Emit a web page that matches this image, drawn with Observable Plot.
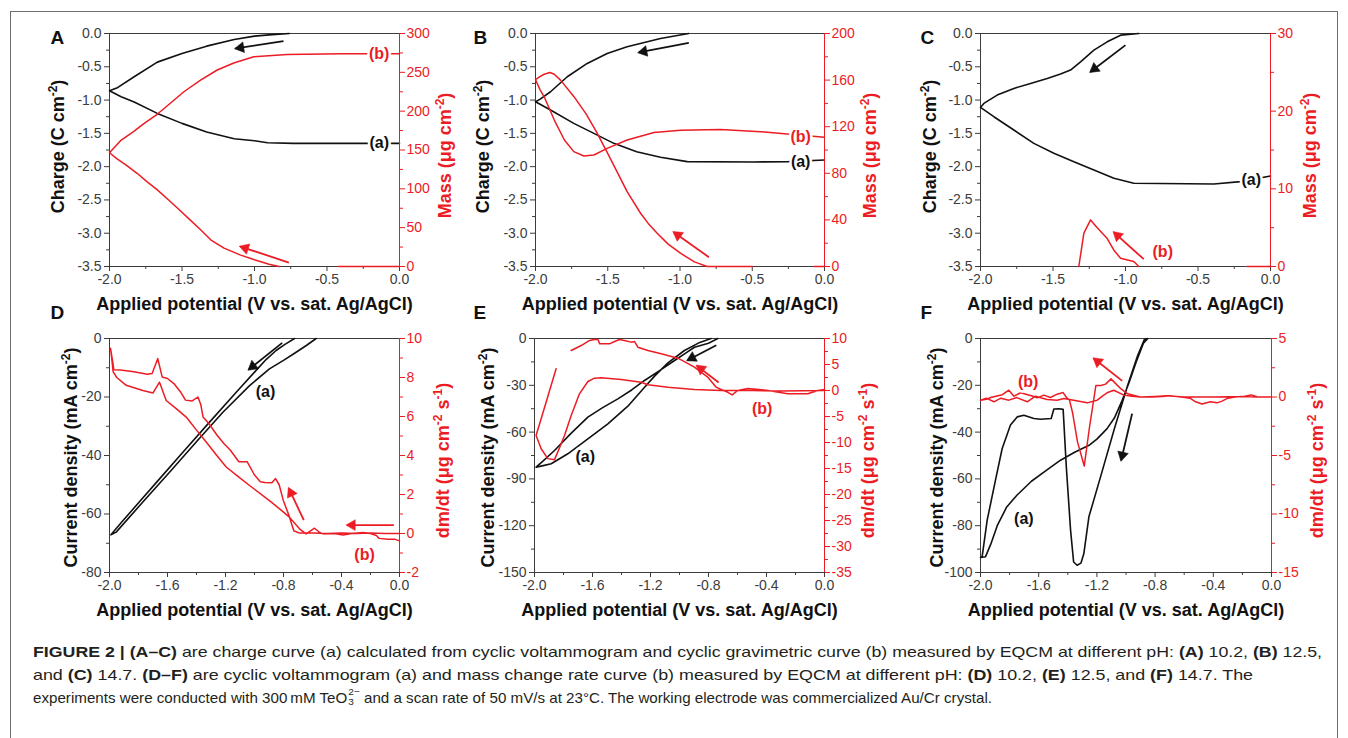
<!DOCTYPE html>
<html><head><meta charset="utf-8">
<script src="https://cdn.jsdelivr.net/npm/d3@7"></script>
<script src="https://cdn.jsdelivr.net/npm/@observablehq/plot@0.6"></script>
<style>
html,body{margin:0;padding:0;background:#fff;}
#fig{position:relative;width:1348px;height:738px;overflow:hidden;background:#fff;font-family:"Liberation Sans",Arial,Helvetica,sans-serif;}
#border{position:absolute;left:10px;top:11px;width:1328px;height:780px;border:1px solid #6e6e6e;box-sizing:border-box;}
.panel{position:absolute;}
.panel svg{position:absolute;left:0;top:0;}
#caption{position:absolute;left:33px;top:641px;font-size:14.5px;line-height:22.8px;color:#231f20;}
.cl{display:block;white-space:nowrap;height:22.8px;}
.cl .t{display:inline-block;transform-origin:0 50%;white-space:nowrap;}
.st{display:inline-block;font-size:0.66em;line-height:1.05;vertical-align:-0.25em;text-align:left;margin-left:1px;}
</style></head>
<body>
<div id="fig"><div id="border"></div><div id="caption"></div></div>
<script>
const RED = "#ec1c24", INK = "#111111", AXC = "#3c3c3c";
const FONT = "'Liberation Sans', Arial, Helvetica, sans-serif";

// ---------- tick values ----------
const xTicksTop = [-2, -1.5, -1, -0.5, 0];
const xMinorTop = [-1.75, -1.25, -0.75, -0.25];
const xTicksBot = [-2, -1.6, -1.2, -0.8, -0.4, 0];
const xMinorBot = [-1.8, -1.4, -1.0, -0.6, -0.2];
const chargeTicks = [0, -0.5, -1, -1.5, -2, -2.5, -3, -3.5];
const chargeMinor = [-0.25, -0.75, -1.25, -1.75, -2.25, -2.75, -3.25];
const aMassTicks = [0, 50, 100, 150, 200, 250, 300];
const aMassMinor = [25, 75, 125, 175, 225, 275];
const bMassTicks = [0, 40, 80, 120, 160, 200];
const bMassMinor = [20, 60, 100, 140, 180];
const cMassTicks = [0, 10, 20, 30];
const cMassMinor = [5, 15, 25];
const dCurTicks = [0, -20, -40, -60, -80];
const dCurMinor = [-10, -30, -50, -70];
const dRateTicks = [-2, 0, 2, 4, 6, 8, 10];
const dRateMinor = [-1, 1, 3, 5, 7, 9];
const eCurTicks = [0, -30, -60, -90, -120, -150];
const eCurMinor = [-15, -45, -75, -105, -135];
const eRateTicks = [10, 5, 0, -5, -10, -15, -20, -25, -30, -35];
const eRateMinor = [7.5, 2.5, -2.5, -7.5, -12.5, -17.5, -22.5, -27.5, -32.5];
const fCurTicks = [0, -20, -40, -60, -80, -100];
const fCurMinor = [-10, -30, -50, -70, -90];
const fRateTicks = [5, 0, -5, -10, -15];
const fRateMinor = [2.5, -2.5, -7.5, -12.5];

// ---------- series: [potential V, value] ----------
const aCharge = [[-0.76,0],[-0.9,-0.02],[-1.0,-0.04],[-1.14,-0.09],[-1.33,-0.19],[-1.5,-0.3],[-1.67,-0.43],[-1.83,-0.65],[-1.95,-0.82],[-2.0,-0.86],[-1.92,-0.95],[-1.83,-1.03],[-1.67,-1.2],[-1.5,-1.35],[-1.33,-1.48],[-1.14,-1.58],[-1.0,-1.61],[-0.91,-1.64],[-0.73,-1.65],[-0.4,-1.65],[0,-1.65]];
const aMass = [[0,0],[-0.42,0],[NaN,NaN],[-0.83,0],[-0.9,3],[-1.0,8.6],[-1.1,15],[-1.21,23.6],[-1.3,34],[-1.37,47],[-1.45,61],[-1.53,75],[-1.6,87],[-1.67,98.6],[-1.74,109],[-1.81,120],[-1.88,130],[-1.95,139],[-2.0,146.5],[-1.924,162],[-1.832,174],[-1.763,184],[-1.671,196],[-1.556,214],[-1.487,225],[-1.372,240],[-1.257,253],[-1.143,262],[-1.005,270],[-0.775,273],[-0.4,274],[0,274]];
const bCharge = [[-0.94,0],[-1.135,-0.075],[-1.366,-0.2],[-1.504,-0.3],[-1.642,-0.45],[-1.78,-0.65],[-1.896,-0.875],[-1.97,-0.99],[-2.0,-1.025],[-1.896,-1.15],[-1.735,-1.35],[-1.596,-1.5],[-1.458,-1.65],[-1.3,-1.775],[-1.135,-1.86],[-0.95,-1.925],[-0.5,-1.93],[-0.25,-1.925],[0,-1.9]];
const bMass = [[0,0],[-0.07,0],[NaN,NaN],[-0.5,0],[-0.812,0],[-0.9,4],[-0.997,11.4],[-1.08,19],[-1.158,28.6],[-1.22,37],[-1.273,45.7],[-1.366,64.3],[-1.43,80],[-1.504,98],[-1.58,116],[-1.65,131],[-1.735,146],[-1.827,160],[-1.87,165],[-1.9,166.5],[-1.94,165],[-1.97,163],[-2.0,160.5],[-1.97,152],[-1.94,145.7],[-1.87,125.7],[-1.8,108.6],[-1.735,98.6],[-1.665,94.9],[-1.596,95.7],[-1.504,101.4],[-1.366,108.6],[-1.18,115],[-0.997,117],[-0.72,117.7],[-0.443,115.7],[-0.26,113.7],[0,111]];
const cCharge = [[-0.908,0],[-1.034,-0.025],[-1.126,-0.125],[-1.218,-0.25],[-1.31,-0.425],[-1.379,-0.55],[-1.448,-0.61],[-1.54,-0.675],[-1.655,-0.75],[-1.77,-0.825],[-1.885,-0.925],[-1.977,-1.05],[-2.0,-1.11],[-1.908,-1.25],[-1.77,-1.45],[-1.632,-1.65],[-1.494,-1.8],[-1.356,-1.925],[-1.218,-2.05],[-1.08,-2.175],[-0.943,-2.25],[-0.39,-2.26],[-0.207,-2.225],[0,-2.14]];
const cMass = [[0,0],[-0.16,0],[NaN,NaN],[-0.908,0],[-0.943,0.64],[-1.034,1.07],[-1.08,2.1],[-1.126,3.6],[-1.195,5.0],[-1.241,6.0],[-1.287,4.3],[-1.322,0]];
const dCurrent = [[-0.575,0],[-0.64,-2.3],[-0.713,-4.7],[-0.8,-7.5],[-0.897,-10.4],[-1.034,-16.1],[-1.218,-25.2],[-1.402,-35.4],[-1.586,-45.7],[-1.77,-55.9],[-1.954,-66.2],[-1.99,-67.1],[-1.92,-63.0],[-1.816,-57.1],[-1.655,-48.0],[-1.494,-38.9],[-1.31,-28.6],[-1.126,-18.4],[-0.989,-10.9],[-0.92,-7.2],[-0.851,-4.1],[-0.79,-2.0],[-0.724,0]];
const dRate = [[0,0],[-0.1,0],[-0.2,0.02],[-0.3,0],[-0.4,0.02],[-0.5,0],[-0.6,0.02],[-0.69,0.02],[-0.729,0.14],[-0.763,0.94],[-0.802,1.71],[-0.83,2.5],[-0.855,2.82],[-0.88,2.6],[-0.93,2.62],[-0.96,2.65],[-1.0,3.0],[-1.051,3.68],[-1.108,3.68],[-1.166,4.27],[-1.21,4.6],[-1.258,5.04],[-1.315,5.64],[-1.355,5.98],[-1.37,6.6],[-1.39,7.0],[-1.43,6.8],[-1.476,6.84],[-1.51,7.26],[-1.556,7.69],[-1.6,7.95],[-1.637,8.03],[-1.667,8.97],[-1.706,8.2],[-1.74,8.17],[-1.832,8.3],[-1.924,8.38],[-1.97,8.4],[-1.98,8.9],[-1.993,9.5],[-1.985,9.0],[-1.975,8.3],[-1.95,8.0],[-1.885,7.6],[-1.77,7.33],[-1.7,7.21],[-1.655,7.76],[-1.609,6.82],[-1.54,6.4],[-1.471,5.97],[-1.4,5.3],[-1.333,4.69],[-1.26,4.0],[-1.195,3.41],[-1.11,2.9],[-1.034,2.46],[-0.897,1.69],[-0.8,1.1],[-0.759,0.84],[-0.69,0.24],[-0.644,-0.02],[-0.586,0.27],[-0.55,0.05],[-0.529,-0.02],[-0.45,0],[-0.39,-0.08],[-0.33,0],[-0.253,0.05],[-0.2,0],[-0.16,-0.1],[-0.14,-0.25],[-0.08,-0.3],[-0.03,-0.3],[0,-0.38]];
const eCurrent = [[-0.736,0],[-0.8,-3.0],[-0.897,-5.6],[-0.96,-9.5],[-1.034,-14.1],[-1.14,-20.8],[-1.241,-26.9],[-1.33,-33.0],[-1.425,-38.7],[-1.53,-44.3],[-1.632,-50.4],[-1.75,-61.0],[-1.862,-71.8],[-1.94,-78.5],[-1.989,-82.5],[-1.94,-81.5],[-1.885,-80.3],[-1.77,-73.9],[-1.632,-64.3],[-1.494,-54.7],[-1.356,-43.4],[-1.241,-31.2],[-1.172,-24.1],[-1.08,-15.6],[-0.966,-7.7],[-0.86,-2.5],[-0.782,0]];
const eRate = [[0,0.19],[-0.046,0],[-0.115,-0.64],[-0.253,-0.64],[-0.39,0],[-0.45,0.2],[-0.529,0.38],[-0.598,0],[-0.637,-0.85],[-0.67,-0.3],[-0.713,0.19],[-0.747,0.64],[-0.805,2.56],[-0.897,4.49],[-1.011,6.22],[-1.126,7.05],[-1.218,7.69],[-1.287,8.33],[-1.31,9.42],[-1.333,9.3],[-1.38,9.62],[-1.414,9.81],[-1.448,9.42],[-1.483,8.97],[-1.55,8.97],[-1.563,9.81],[-1.586,9.81],[-1.62,9.62],[-1.678,8.65],[-1.747,7.69],[NaN,NaN],[-1.851,4.17],[-1.92,-2.25],[-1.989,-8.65],[-1.954,-11.2],[-1.908,-13.1],[-1.862,-13.3],[-1.839,-11.8],[-1.793,-8.65],[-1.747,-4.8],[-1.69,-0.64],[-1.632,1.73],[-1.586,2.37],[-1.54,2.44],[-1.402,2.12],[-1.264,1.6],[-1.218,1.1],[-1.08,0.64],[-0.897,0.19],[-0.713,0],[-0.5,0],[-0.3,-0.1],[0,0]];
const fCurrent = [[-0.85,0],[-0.874,-0.4],[-0.92,-7.3],[-0.989,-20.1],[-1.08,-38.6],[-1.172,-58.5],[-1.255,-76.2],[-1.29,-92.0],[-1.31,-96.0],[-1.336,-96.9],[-1.36,-95.5],[-1.381,-81.9],[-1.41,-55],[-1.432,-30.3],[-1.46,-30.0],[-1.496,-30.1],[-1.514,-34.2],[-1.588,-34.5],[-1.633,-34.2],[-1.702,-32.8],[-1.748,-33.5],[-1.794,-37.0],[-1.851,-47.0],[-1.897,-60.5],[-1.954,-77.6],[-1.989,-93.3],[-2.0,-93.6],[-1.966,-93.3],[-1.93,-88],[-1.885,-80],[-1.82,-72],[-1.75,-67],[-1.65,-61],[-1.55,-56.5],[-1.45,-52],[-1.35,-48.5],[-1.25,-45.5],[-1.2,-43],[-1.13,-38.5],[-1.08,-34],[-1.03,-27],[-0.98,-19],[-0.93,-10],[-0.88,-2],[-0.85,0]];
const fRate = [[0,0],[-0.1,0.02],[-0.138,0.18],[-0.184,0.07],[-0.25,0],[-0.3,-0.1],[-0.34,-0.35],[-0.374,-0.5],[-0.42,-0.41],[-0.477,-0.6],[-0.522,-0.41],[-0.56,-0.1],[-0.62,0],[-0.7,0.1],[-0.75,0.05],[-0.82,0],[-0.9,0],[-0.943,0.13],[-0.989,0.27],[-1.034,0.69],[-1.069,1.12],[-1.103,1.55],[-1.14,1.1],[-1.172,0.98],[-1.207,0.98],[-1.25,-2.5],[-1.287,-5.9],[-1.333,-3.86],[-1.368,-1.3],[-1.39,-0.2],[-1.404,-0.13],[-1.432,0.38],[-1.473,0.24],[-1.519,-0.04],[-1.565,0.16],[-1.61,-0.07],[-1.65,0.1],[-1.725,0.36],[-1.77,0.07],[-1.805,0.58],[-1.85,0.2],[-1.93,-0.04],[-1.96,-0.2],[-2.0,-0.27],[-1.96,-0.1],[-1.908,-0.41],[-1.86,-0.1],[-1.805,-0.27],[-1.75,-0.05],[-1.679,-0.41],[-1.622,0.07],[-1.542,-0.21],[-1.473,-0.27],[-1.427,-0.13],[-1.359,-0.27],[-1.267,-0.5],[-1.198,-0.27],[-1.16,0.1],[-1.13,0.36],[-1.084,0.58],[-1.015,0.16],[-0.96,0.07],[-0.9,0],[-0.8,0.05],[-0.72,0.1],[-0.6,0],[-0.4,0],[-0.2,0.05],[-0.1,0],[0,0]];

// ---------- arrows [x1, y1, x2, y2] and labels [x, y, text] ----------
const aBlackArrows = [[-0.80,-0.115,-1.13,-0.225]];
const aRedArrows = [[-0.763,5.1,-1.097,25.7]];
const bBlackArrows = [[-0.939,-0.14,-1.285,-0.285]];
const bRedArrows = [[-0.80,8,-1.043,29.4]];
const cBlackArrows = [[-1.0,-0.175,-1.241,-0.575]];
const cRedArrows = [[-0.874,0.94,-1.08,4.4]];
const dBlackArrows = [[-0.809,-1.5,-1.039,-10.6]];
const dRedArrows = [[-0.66,0.68,-0.763,2.31],[-0.039,0.43,-0.361,0.43]];
const eBlackArrows = [[-0.746,-4.3,-0.944,-13.9]];
const eRedArrows = [[-0.73,1.54,-0.879,4.74]];
const fBlackArrows = [[-0.958,-32.1,-1.033,-52.0]];
const fRedArrows = [[-1.026,1.38,-1.221,3.29]];
const aBlackLabels = [[-0.14,-1.65,"(a)"]], aRedLabels = [[-0.14,274,"(b)"]];
const bBlackLabels = [[-0.165,-1.925,"(a)"]], bRedLabels = [[-0.165,111.4,"(b)"]];
const cBlackLabels = [[-0.133,-2.2,"(a)"]], cRedLabels = [[-0.743,1.93,"(b)"]];
const dBlackLabels = [[-0.924,-18.2,"(a)"]], dRedLabels = [[-0.241,-1.11,"(b)"]];
const eBlackLabels = [[-1.65,-75.9,"(a)"]], eRedLabels = [[-0.43,-3.46,"(b)"]];
const fBlackLabels = [[-1.702,-77.2,"(a)"]], fRedLabels = [[-1.672,1.3,"(b)"]];

const xTitle = "Applied potential (V vs. sat. Ag/AgCl)";
const chargeTitle = "Charge (C cm^{-2})";
const massTitle = "Mass (μg cm^{-2})";
const currentTitle = "Current density (mA cm^{-2})";
const rateTitle = "dm/dt (μg cm^{-2} s^{-1})";

const f1 = d => d.toFixed(1);
const f0 = d => String(d);

const panels = [
  {letter:"A", frame:[109,33,399,266], xT:xTicksTop, xM:xMinorTop, yDom:[-3.5,0], yT:chargeTicks, yM:chargeMinor, yF:f1,
   rDom:[0,300], rT:aMassTicks, rM:aMassMinor, black:aCharge, red:aMass, bA:aBlackArrows, rA:aRedArrows, bL:aBlackLabels, rL:aRedLabels,
   yTitle:chargeTitle, rTitle:massTitle, lDx:-59, lDy:10, yDx:-46, yDy:-3.5, rDx:51, rDy:5.5},
  {letter:"B", frame:[535,33,824,266], xT:xTicksTop, xM:xMinorTop, yDom:[-3.5,0], yT:chargeTicks, yM:chargeMinor, yF:f1,
   rDom:[0,200], rT:bMassTicks, rM:bMassMinor, black:bCharge, red:bMass, bA:bBlackArrows, rA:bRedArrows, bL:bBlackLabels, rL:bRedLabels,
   yTitle:chargeTitle, rTitle:massTitle, lDx:-62, lDy:10, yDx:-47, yDy:-3.5, rDx:51, rDy:5.5},
  {letter:"C", frame:[980,33,1270,266], xT:xTicksTop, xM:xMinorTop, yDom:[-3.5,0], yT:chargeTicks, yM:chargeMinor, yF:f1,
   rDom:[0,30], rT:cMassTicks, rM:cMassMinor, black:cCharge, red:cMass, bA:cBlackArrows, rA:cRedArrows, bL:cBlackLabels, rL:cRedLabels,
   yTitle:chargeTitle, rTitle:massTitle, lDx:-60, lDy:10, yDx:-45, yDy:-3.5, rDx:45, rDy:5.5},
  {letter:"D", frame:[109,338,399,572], xT:xTicksBot, xM:xMinorBot, yDom:[-80,0], yT:dCurTicks, yM:dCurMinor, yF:f0,
   rDom:[-2,10], rT:dRateTicks, rM:dRateMinor, black:dCurrent, red:dRate, bA:dBlackArrows, rA:dRedArrows, bL:dBlackLabels, rL:dRedLabels,
   yTitle:currentTitle, rTitle:rateTitle, lDx:-59, lDy:-20, yDx:-33, yDy:2, rDx:49, rDy:5},
  {letter:"E", frame:[534,338,824,572], xT:xTicksBot, xM:xMinorBot, yDom:[-150,0], yT:eCurTicks, yM:eCurMinor, yF:f0,
   rDom:[-35,10], rT:eRateTicks, rM:eRateMinor, black:eCurrent, red:eRate, bA:eBlackArrows, rA:eRedArrows, bL:eBlackLabels, rL:eRedLabels,
   yTitle:currentTitle, rTitle:rateTitle, lDx:-61, lDy:-20, yDx:-41, yDy:2, rDx:49, rDy:5},
  {letter:"F", frame:[980,338,1271,572], xT:xTicksBot, xM:xMinorBot, yDom:[-100,0], yT:fCurTicks, yM:fCurMinor, yF:f0,
   rDom:[-15,5], rT:fRateTicks, rM:fRateMinor, black:fCurrent, red:fRate, bA:fBlackArrows, rA:fRedArrows, bL:fBlackLabels, rL:fRedLabels,
   yTitle:currentTitle, rTitle:rateTitle, lDx:-60, lDy:-20, yDx:-38, yDy:2, rDx:51, rDy:5}
];

function richText(svg) {
  d3.select(svg).selectAll("text").each(function() {
    const s = this.textContent;
    if (s.indexOf("^{") < 0) return;
    const parts = s.split(/(\^\{[^}]*\})/).filter(p => p.length);
    const sel = d3.select(this);
    sel.text(null);
    let raised = false;
    for (const p of parts) {
      if (p.startsWith("^{")) {
        const t = sel.append("tspan").attr("font-size", 12).text(p.slice(2, -1));
        if (!raised) t.attr("dy", -7);
        raised = true;
      } else {
        const t = sel.append("tspan").text(p);
        if (raised) t.attr("dy", 7);
        raised = false;
      }
    }
  });
  d3.select(svg).selectAll("[stroke=white]").attr("paint-order", "stroke");
}

// arrow heads: filled triangles oriented along each arrow in screen space
function arrowHeads(arrows, frame, yDom) {
  const [fx0, fy0, fx1, fy1] = frame;
  const kx = (fx1 - fx0) / 2, ky = (fy1 - fy0) / (yDom[1] - yDom[0]);
  return arrows.map(([x1, y1, x2, y2]) => {
    const dxp = (x2 - x1) * kx, dyp = -(y2 - y1) * ky;
    const len = Math.hypot(dxp, dyp), ux = dxp / len, uy = dyp / len;
    const back = 5;
    return {x: x2 - back * ux / kx, y: y2 + back * uy / ky, rot: Math.atan2(dxp, -dyp) * 180 / Math.PI};
  });
}
function arrowMarks(arrows, frame, yDom, color) {
  return [
    Plot.link(arrows, {x1: d => d[0], y1: d => d[1], x2: d => d[2], y2: d => d[3], stroke: color, strokeWidth: 1.8}),
    Plot.dot(arrowHeads(arrows, frame, yDom), {x: "x", y: "y", rotate: "rot", symbol: "triangle", r: 4, fill: color, stroke: color, strokeWidth: 0.5})
  ];
}

const fig = document.getElementById("fig");
const ML = 100, MR = 70, MT = 30, MB = 55;
const X = d => d[0], Y = d => d[1];

for (const p of panels) {
  const [fx0, fy0, fx1, fy1] = p.frame;
  const W = ML + (fx1 - fx0) + MR, H = MT + (fy1 - fy0) + MB;
  const wrap = document.createElement("div");
  wrap.className = "panel";
  wrap.style.left = (fx0 - ML) + "px";
  wrap.style.top = (fy0 - MT) + "px";
  wrap.style.width = W + "px";
  wrap.style.height = H + "px";
  const common = {width: W, height: H, marginLeft: ML, marginRight: MR, marginTop: MT, marginBottom: MB,
    style: `background:transparent;max-width:none;overflow:visible;font-family:${FONT};`};

  const black = Plot.plot({
    ...common,
    x: {domain: [-2, 0]},
    y: {domain: p.yDom},
    marks: [
      Plot.axisX(p.xT, {tickSize: 5, tickPadding: 3, tickFormat: f1, fontSize: 14, color: AXC, label: null}),
      Plot.axisX(p.xM, {tickSize: 3, tickFormat: () => "", color: AXC, label: null}),
      Plot.axisY(p.yT, {anchor: "left", tickSize: 5, tickPadding: 3, tickFormat: p.yF, fontSize: 14, color: AXC, label: null}),
      Plot.axisY(p.yM, {anchor: "left", tickSize: 3, tickFormat: () => "", color: AXC, label: null}),
      Plot.ruleX([-2], {stroke: AXC}),
      Plot.ruleY(p.yDom, {stroke: AXC}),
      Plot.line(p.black, {x: X, y: Y, stroke: INK, strokeWidth: 1.6}),
      ...arrowMarks(p.bA, p.frame, p.yDom, INK),
      Plot.text(p.bL, {x: X, y: Y, text: d => d[2], fill: INK, fontSize: 16, fontWeight: "bold", stroke: "white", strokeWidth: 5}),
      Plot.text([p.letter], {frameAnchor: "top-left", textAnchor: "start", lineAnchor: "bottom", dx: p.lDx, dy: p.lDy, text: d => d, fontSize: 19, fontWeight: "bold", fill: INK}),
      Plot.text([xTitle], {frameAnchor: "bottom", textAnchor: "middle", lineAnchor: "bottom", dy: 43, text: d => d, fontSize: 18, fontWeight: "bold", fill: INK}),
      Plot.text([p.yTitle], {frameAnchor: "left", rotate: -90, textAnchor: "middle", lineAnchor: "bottom", dx: p.yDx, dy: p.yDy, text: d => d, fontSize: 18, fontWeight: "bold", fill: INK})
    ]
  });

  const red = Plot.plot({
    ...common,
    x: {domain: [-2, 0], axis: null},
    y: {domain: p.rDom},
    marks: [
      Plot.axisY(p.rT, {anchor: "right", tickSize: 5, tickPadding: 2, tickFormat: f0, fontSize: 14, color: RED, label: null}),
      Plot.axisY(p.rM, {anchor: "right", tickSize: 3, tickFormat: () => "", color: RED, label: null}),
      Plot.ruleX([0], {stroke: RED}),
      Plot.line(p.red, {x: X, y: Y, stroke: RED, strokeWidth: 1.5}),
      ...arrowMarks(p.rA, p.frame, p.rDom, RED),
      Plot.text(p.rL, {x: X, y: Y, text: d => d[2], fill: RED, fontSize: 16, fontWeight: "bold", stroke: "white", strokeWidth: 5}),
      Plot.text([p.rTitle], {frameAnchor: "right", rotate: -90, textAnchor: "middle", lineAnchor: "bottom", dx: p.rDx, dy: p.rDy, text: d => d, fontSize: 18, fontWeight: "bold", fill: RED})
    ]
  });
  richText(black); richText(red);
  wrap.appendChild(black);
  wrap.appendChild(red);
  fig.appendChild(wrap);
}

// ---------- caption ----------
const captionLines = [
  ['<b>FIGURE 2 | (A–C)</b> are charge curve (a) calculated from cyclic voltammogram and cyclic gravimetric curve (b) measured by EQCM at different pH: <b>(A)</b> 10.2, <b>(B)</b> 12.5,', 1289],
  ['and <b>(C)</b> 14.7. <b>(D–F)</b> are cyclic voltammogram (a) and mass change rate curve (b) measured by EQCM at different pH: <b>(D)</b> 10.2, <b>(E)</b> 12.5, and <b>(F)</b> 14.7. The', 1220],
  ['experiments were conducted with 300&#8201;mM TeO<span class="st">2−<br>3</span> and a scan rate of 50 mV/s at 23°C. The working electrode was commercialized Au/Cr crystal.', 959]
];
const cap = document.getElementById("caption");
const spans = [];
for (const [html, w] of captionLines) {
  const div = document.createElement("div");
  div.className = "cl";
  const span = document.createElement("span");
  span.className = "t";
  span.innerHTML = html;
  div.appendChild(span);
  cap.appendChild(div);
  spans.push([span, w]);
}
for (const [span, w] of spans) {
  const actual = span.getBoundingClientRect().width;
  if (actual > 0) span.style.transform = `scaleX(${w / actual})`;
}
</script>
</body></html>
